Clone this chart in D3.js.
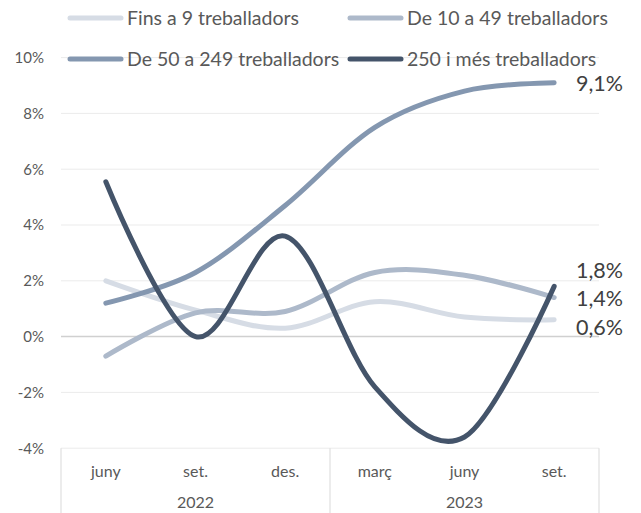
<!DOCTYPE html>
<html><head><meta charset="utf-8">
<script src="https://cdn.jsdelivr.net/npm/d3@7"></script>
<style>body{margin:0;background:#fff}svg{display:block}</style>
</head><body>
<svg id="c" width="641" height="513"></svg>
<script>
const months = ["juny","set.","des.","març","juny","set."];
const years = ["2022","2022","2022","2023","2023","2023"];
const yearGroups = ["2022","2023"];
const seriesNames = ["Fins a 9 treballadors","De 10 a 49 treballadors","De 50 a 249 treballadors","250 i més treballadors"];
const fins9 = [2.0, 0.95, 0.3, 1.25, 0.7, 0.6];
const de10a49 = [-0.7, 0.85, 0.9, 2.3, 2.2, 1.4];
const de50a249 = [1.2, 2.3, 4.7, 7.5, 8.8, 9.1];
const mes250 = [5.55, 0.0, 3.6, -1.8, -3.6, 1.8];
const endLabels = ["0,6%","1,4%","9,1%","1,8%"];
const yTicks = [-4,-2,0,2,4,6,8,10];
const colors = ["#d6dce5","#adb9ca","#8497b0","#44546a"];

const series = [fins9, de10a49, de50a249, mes250];
const keys = months.map((m,i)=>years[i]+"-"+m+"-"+i);
const svg = d3.select("#c");
const font = "Lato, 'Open Sans', sans-serif";
const x = d3.scaleBand().domain(keys).range([61,599]);
const cx = i => x(keys[i]) + x.bandwidth()/2;
const y = d3.scaleLinear().domain([-4,10]).range([448.2,57.6]);

// gridlines
svg.append("g").selectAll("line").data(yTicks).join("line")
  .attr("x1",61).attr("x2",599).attr("y1",d=>y(d)).attr("y2",d=>y(d))
  .attr("stroke",d=>d===0?"#d0d0d0":"#ebebeb").attr("stroke-width",d=>d===0?1.5:1);

// y axis labels
const yAxis = d3.axisLeft(y).tickValues(yTicks).tickSize(0).tickPadding(0).tickFormat(d=>d+"%");
const ya = svg.append("g").attr("transform","translate(44,0)").call(yAxis);
ya.select(".domain").remove();
ya.selectAll("text").attr("font-family",font).attr("font-size",15).attr("fill","#595959");

// x axis box
const xb = svg.append("g");
const bounds = [61, x(keys[3]), 599];
xb.selectAll("line.v").data(bounds).join("line").attr("class","v")
  .attr("x1",d=>d).attr("x2",d=>d).attr("y1",y(-4)).attr("y2",513)
  .attr("stroke","#d9d9d9").attr("stroke-width",1);
xb.selectAll("text.m").data(months).join("text").attr("class","m")
  .attr("x",(d,i)=>cx(i)).attr("y",477).attr("text-anchor","middle")
  .attr("font-family",font).attr("font-size",16).attr("fill","#595959").text(d=>d);
xb.selectAll("text.yr").data(yearGroups).join("text").attr("class","yr")
  .attr("x",d=>{const idx=years.map((v,i)=>v===d?i:-1).filter(i=>i>=0);return (cx(idx[0])+cx(idx[idx.length-1]))/2;})
  .attr("y",508).attr("text-anchor","middle")
  .attr("font-family",font).attr("font-size",16).attr("fill","#595959").text(d=>d);

// lines
const line = d3.line().x((d,i)=>cx(i)).y(d=>y(d)).curve(d3.curveCardinal.tension(0));
svg.append("g").selectAll("path").data(series).join("path")
  .attr("d",d=>line(d)).attr("fill","none")
  .attr("stroke",(d,i)=>colors[i]).attr("stroke-width",5)
  .attr("stroke-linecap","round").attr("stroke-linejoin","round");

// end labels with simple collision avoidance
const labs = series.map((d,i)=>({i, y:y(d[d.length-1])}));
const sorted = labs.slice().sort((a,b)=>a.y-b.y);
const gap = 28.5;
for (let it=0; it<50; it++) {
  for (let k=1; k<sorted.length; k++) {
    const a=sorted[k-1], b=sorted[k];
    const ov = gap - (b.y - a.y);
    if (ov>0) { a.y -= ov/2; b.y += ov/2; }
  }
}
svg.append("g").selectAll("text").data(labs).join("text")
  .attr("x",576).attr("y",d=>d.y+(d.i===2?8:5))
  .attr("font-family",font).attr("font-size",21.5).attr("fill","#404040")
  .text(d=>endLabels[d.i]);

// legend
const legPos = [[68,18],[348,18],[68,59],[348,59]];
const lg = svg.append("g").selectAll("g").data(seriesNames).join("g")
  .attr("transform",(d,i)=>`translate(${legPos[i][0]},${legPos[i][1]})`);
lg.append("line").attr("x1",2).attr("x2",53).attr("y1",0).attr("y2",0)
  .attr("stroke",(d,i)=>colors[i]).attr("stroke-width",5).attr("stroke-linecap","round");
lg.append("text").attr("x",59).attr("y",6.5).attr("font-family",font).attr("font-size",19.5)
  .attr("fill","#595959").text(d=>d);
</script>
</body></html>
